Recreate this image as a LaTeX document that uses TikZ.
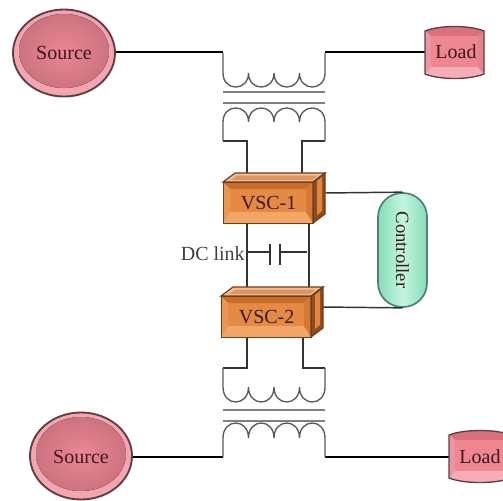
\documentclass[tikz,border=0pt]{standalone}
\usepackage{fontspec}
\setmainfont{Liberation Serif}
\usetikzlibrary{shapes.geometric}
\definecolor{srcrim}{HTML}{F5A5AF}
\definecolor{srcfill}{HTML}{EC7F8E}
\definecolor{srcline}{HTML}{5E3F45}
\definecolor{loadmid}{HTML}{EE8792}
\definecolor{loaddark}{HTML}{D9707C}
\definecolor{loadlight}{HTML}{F6AEB6}
\definecolor{vscmid}{HTML}{E58A45}
\definecolor{vscdark}{HTML}{CB6C2C}
\definecolor{vsclight}{HTML}{F3A565}
\definecolor{vscside}{HTML}{8C4C1E}
\definecolor{vsctop}{HTML}{F0BE94}
\definecolor{vscline}{HTML}{6B3F20}
\definecolor{ctrlmid}{HTML}{C4F5DF}
\definecolor{ctrlrim}{HTML}{86DBB8}
\definecolor{ctrlline}{HTML}{4F8273}
\definecolor{txtdark}{HTML}{3C1A1E}
\tikzset{
  wire/.style={line width=1.1pt,black!80},
  mainwire/.style={line width=2.1pt,black},
  coil/.style={line width=1pt,black!65},
  corebar/.style={line width=1.4pt,black!50},
  lbl/.style={font=\fontsize{15}{17}\selectfont,text=txtdark,inner sep=0pt}
}
\begin{document}
\begin{tikzpicture}[x=0.75pt,y=-0.75pt]
  \useasboundingbox (0,0) rectangle (503,500);
  % Terminals
  \coordinate (in1) at (223,52);
  \coordinate (out1) at (325,52);
  \coordinate (in2) at (223,457);
  \coordinate (out2) at (325,457);
  \coordinate (sec1l) at (223,141);
  \coordinate (sec1r) at (325,141);
  \coordinate (sec2l) at (223,368);
  \coordinate (sec2r) at (325,368);
  \coordinate (vsc1tl) at (247,175);
  \coordinate (vsc1tr) at (302,175);
  \coordinate (vsc1bl) at (247,223);
  \coordinate (vsc1br) at (309,223);
  \coordinate (vsc2tl) at (247,296);
  \coordinate (vsc2tr) at (309,290);
  \coordinate (vsc2bl) at (247,337);
  \coordinate (vsc2br) at (303,337);
  \coordinate (vsc1side) at (325,193);
  \coordinate (vsc2side) at (322,307);
  \coordinate (capl) at (270,252);
  \coordinate (capr) at (280,252);
  \coordinate (busl) at (247,252);
  \coordinate (busr) at (307,252);
  \coordinate (load1in) at (425,52);
  \coordinate (load2in) at (449,457);
  % Wiring
  \draw[mainwire] (in1) -- (116,52);
  \draw[mainwire] (out1) -- (load1in);
  \draw[mainwire] (in2) -- (131,457);
  \draw[mainwire] (out2) -- (load2in);
  \draw[wire] (sec1l) -| (vsc1tl);
  \draw[wire] (sec1r) -| (vsc1tr);
  \draw[wire] (sec2l) -| (vsc2bl);
  \draw[wire] (sec2r) -| (vsc2br);
  \draw[wire] (vsc1bl) -- (vsc2tl);
  \draw[wire] (vsc1br) -- (vsc2tr);
  \draw[wire] (busl) -- (capl);
  \draw[wire] (capr) -- (busr);
  \draw[wire] (270,244) -- (capl) -- (270,265);
  \draw[wire] (280,244) -- (capr) -- (280,265);
  % Transformers
  \foreach \y in {92,103,410,421}
    \draw[corebar] (223,\y) -- (325,\y);
  \foreach \ycusp/\yctrl/\yend in {73/91.7/53,122/103.3/141,387/407/368,438/418/457}{
    \draw[coil] (223,\yend) -- (223,\ycusp)
      \foreach \xa in {223,248.5,274,299.5}{
        .. controls (\xa,\yctrl) and (\xa+25.5,\yctrl) .. (\xa+25.5,\ycusp)
      } -- (325,\yend);
  }
  % Sources
  \foreach \cx/\cy in {64/53,81/456}{
    \draw[draw=srcline,line width=1.4pt,fill=srcrim] (\cx,\cy) ellipse (51 and 43.5);
    \fill[inner color=srcfill!95!white,outer color=srcfill!85!black!95!white] (\cx,\cy-2) ellipse (45 and 37);
  }
  \node[ellipse,minimum width=102*0.75pt,minimum height=87*0.75pt,lbl] (src1) at (64,53) {Source};
  \node[ellipse,minimum width=102*0.75pt,minimum height=86*0.75pt,lbl] (src2) at (81,457) {Source};
  % Loads
  \foreach \xa/\xb/\ya/\yb in {425/484/27/78,449/511/431/482}{
    \fill[loadlight] (\xa,\ya+4) .. controls (\xa+15,\ya-2) and (\xb-15,\ya-2) .. (\xb,\ya+4) -- (\xb,\yb-4) .. controls (\xb-15,\yb+2) and (\xa+15,\yb+2) .. (\xa,\yb-4) -- cycle;
    \fill[loaddark] (\xa,\ya+4) .. controls (\xa+15,\ya-2) and (\xb-15,\ya-2) .. (\xb,\ya+4) -- (\xb-6,\ya+9) -- (\xa+6,\ya+9) -- cycle;
    \fill[loaddark!70!loadlight] (\xb,\ya+4) -- (\xb,\yb-4) -- (\xb-6,\yb-11) -- (\xb-6,\ya+9) -- cycle;
    \fill[loaddark!40!loadlight] (\xa,\ya+4) -- (\xa,\yb-4) -- (\xa+6,\yb-11) -- (\xa+6,\ya+9) -- cycle;
    \fill[loadmid] (\xa+6,\ya+9) rectangle (\xb-6,\yb-11);
    \draw[srcline,line width=1pt] (\xa,\ya+4) .. controls (\xa+15,\ya-2) and (\xb-15,\ya-2) .. (\xb,\ya+4) -- (\xb,\yb-4) .. controls (\xb-15,\yb+2) and (\xa+15,\yb+2) .. (\xa,\yb-4) -- cycle;
  }
  \node[lbl] (load1) at (456,52) {Load};
  \node[lbl] (load2) at (480,457) {Load};
  % Controller
  \node[rectangle,rounded corners=18pt,draw=ctrlline,line width=1.3pt,left color=ctrlrim,right color=ctrlrim,middle color=ctrlmid,minimum width=114*0.75pt,minimum height=49*0.75pt,rotate=-90,lbl,font=\fontsize{14}{16}\selectfont] (ctrl) at (402.5,250) {Controller};
  \draw[wire] (vsc1side) -- (ctrl.west);
  \draw[wire] (vsc2side) -- (ctrl.east);
  % Converters
  \foreach \xa/\ya in {223/182,221/296}{
    \fill[vscmid] (\xa,\ya) rectangle (\xa+90,\ya+41);
    \fill[vscdark] (\xa,\ya) -- (\xa+90,\ya) -- (\xa+83,\ya+7) -- (\xa+7,\ya+7) -- cycle;
    \fill[vsclight] (\xa,\ya+41) -- (\xa+90,\ya+41) -- (\xa+83,\ya+30) -- (\xa+7,\ya+30) -- cycle;
    \fill[vscdark!60!vscmid] (\xa+90,\ya) -- (\xa+90,\ya+41) -- (\xa+83,\ya+30) -- (\xa+83,\ya+7) -- cycle;
    \fill[vscmid!60!vsclight] (\xa,\ya) -- (\xa,\ya+41) -- (\xa+7,\ya+30) -- (\xa+7,\ya+7) -- cycle;
    \draw[vscline,line width=0.9pt,fill=vsctop] (\xa,\ya) -- (\xa+12,\ya-9) -- (\xa+102,\ya-9) -- (\xa+90,\ya) -- cycle;
    \fill[vscdark!50!vsctop] (\xa+8,\ya-2) -- (\xa+14,\ya-6.5) -- (\xa+95,\ya-6.5) -- (\xa+89,\ya-2) -- cycle;
    \draw[vscline,line width=0.9pt,fill=vscside] (\xa+90,\ya) -- (\xa+102,\ya-9) -- (\xa+102,\ya+32) -- (\xa+90,\ya+41) -- cycle;
    \fill[vscmid!85!vscdark] (\xa+94,\ya-1) -- (\xa+99,\ya-5) -- (\xa+99,\ya+29) -- (\xa+94,\ya+33) -- cycle;
  }
  \node[draw=vscline,line width=0.9pt,minimum width=90*0.75pt,minimum height=41*0.75pt,anchor=north west,lbl] (vsc1) at (223,182) {VSC-1};
  \node[draw=vscline,line width=0.9pt,minimum width=90*0.75pt,minimum height=41*0.75pt,anchor=north west,lbl] (vsc2) at (221,296) {VSC-2};
  \node[lbl,anchor=east,text=black!75] (dclink) at (245,254) {DC link};
\end{tikzpicture}
\end{document}
